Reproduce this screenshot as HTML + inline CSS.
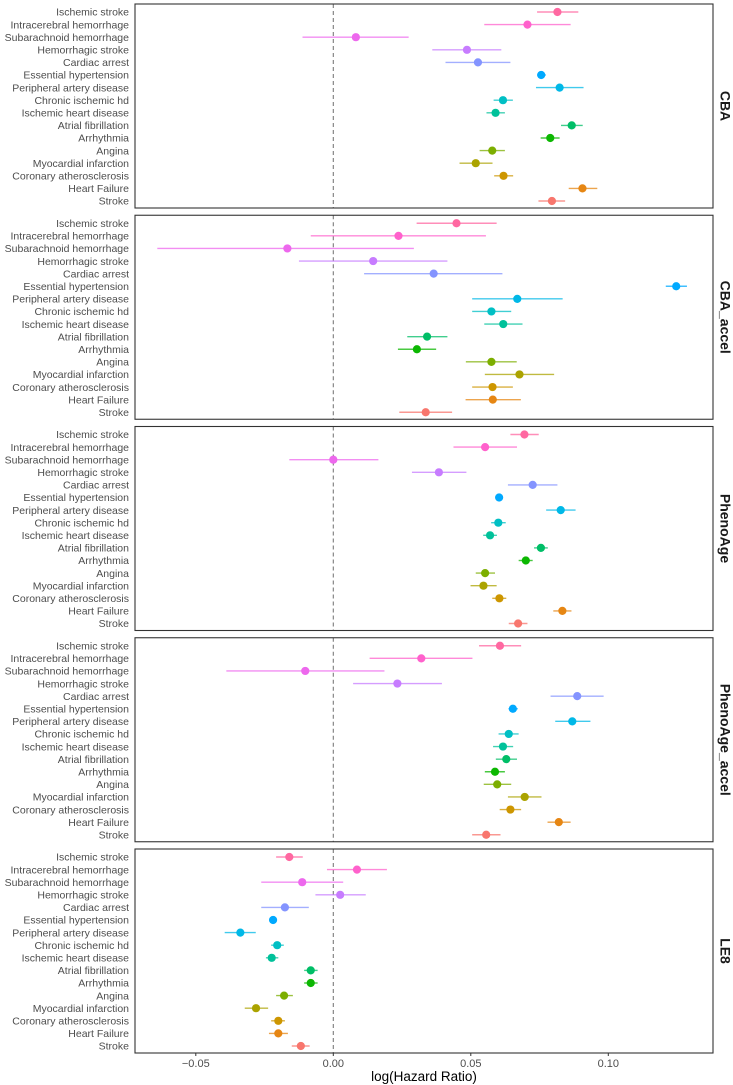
<!DOCTYPE html>
<html><head><meta charset="utf-8"><style>
html,body{margin:0;padding:0;background:#fff;}
svg{display:block;font-family:"Liberation Sans",Arial,sans-serif;}
</style></head><body>
<svg id="chart" width="733" height="1085" viewBox="0 0 733 1085" xmlns="http://www.w3.org/2000/svg"></svg>
<script>
const outcomes = ["Ischemic stroke","Intracerebral hemorrhage","Subarachnoid hemorrhage","Hemorrhagic stroke","Cardiac arrest","Essential hypertension","Peripheral artery disease","Chronic ischemic hd","Ischemic heart disease","Atrial fibrillation","Arrhythmia","Angina","Myocardial infarction","Coronary atherosclerosis","Heart Failure","Stroke"];
const colors = ["#FF68A1","#FF61CC","#ED68ED","#C77CFF","#8494FF","#00A9FF","#00B8E7","#00BFC4","#00C19A","#00BE67","#0CB702","#7CAE00","#ABA300","#CD9600","#E68613","#F8766D"];
const panels = ["CBA","CBA_accel","PhenoAge","PhenoAge_accel","LE8"];
const xTicks = [-0.05,0,0.05,0.1];
const xTickLabels = ["\u22120.05","0.00","0.05","0.10"];
const cbaEst = [0.0815,0.0706,0.0082,0.0486,0.0526,0.0756,0.0823,0.0617,0.0590,0.0867,0.0789,0.0578,0.0518,0.0619,0.0906,0.0795];
const cbaLo  = [0.0741,0.0549,-0.0112,0.0360,0.0408,0.0741,0.0737,0.0583,0.0557,0.0828,0.0754,0.0532,0.0459,0.0585,0.0856,0.0746];
const cbaHi  = [0.0891,0.0863,0.0274,0.0611,0.0644,0.0773,0.0910,0.0653,0.0624,0.0907,0.0823,0.0624,0.0579,0.0654,0.0960,0.0843];
const cbaAccEst = [0.0448,0.0237,-0.0167,0.0145,0.0365,0.1247,0.0669,0.0575,0.0618,0.0341,0.0304,0.0575,0.0677,0.0579,0.0580,0.0336];
const cbaAccLo  = [0.0303,-0.0082,-0.0640,-0.0125,0.0112,0.1209,0.0505,0.0505,0.0549,0.0269,0.0235,0.0482,0.0551,0.0505,0.0481,0.0240];
const cbaAccHi  = [0.0594,0.0555,0.0293,0.0415,0.0615,0.1286,0.0834,0.0647,0.0688,0.0415,0.0374,0.0667,0.0803,0.0653,0.0682,0.0432];
const phEst = [0.0695,0.0552,0.0000,0.0384,0.0725,0.0603,0.0827,0.0600,0.0570,0.0755,0.0700,0.0552,0.0546,0.0604,0.0833,0.0672];
const phLo  = [0.0644,0.0437,-0.0160,0.0286,0.0635,0.0590,0.0774,0.0574,0.0545,0.0730,0.0674,0.0518,0.0499,0.0578,0.0800,0.0638];
const phHi  = [0.0747,0.0668,0.0164,0.0484,0.0815,0.0615,0.0881,0.0627,0.0595,0.0780,0.0725,0.0588,0.0594,0.0629,0.0866,0.0706];
const phAccEst = [0.0606,0.0320,-0.0102,0.0233,0.0887,0.0653,0.0869,0.0638,0.0617,0.0629,0.0588,0.0596,0.0696,0.0644,0.0820,0.0556];
const phAccLo  = [0.0530,0.0132,-0.0389,0.0072,0.0790,0.0637,0.0807,0.0601,0.0581,0.0591,0.0551,0.0547,0.0635,0.0605,0.0779,0.0505];
const phAccHi  = [0.0683,0.0506,0.0186,0.0395,0.0983,0.0671,0.0935,0.0674,0.0654,0.0668,0.0624,0.0647,0.0757,0.0683,0.0863,0.0608];
const le8Est = [-0.0160,0.0086,-0.0113,0.0025,-0.0176,-0.0219,-0.0338,-0.0204,-0.0224,-0.0082,-0.0082,-0.0179,-0.0281,-0.0200,-0.0200,-0.0118];
const le8Lo  = [-0.0208,-0.0023,-0.0262,-0.0065,-0.0262,-0.0229,-0.0395,-0.0226,-0.0245,-0.0106,-0.0106,-0.0208,-0.0322,-0.0226,-0.0234,-0.0151];
const le8Hi  = [-0.0111,0.0195,0.0036,0.0118,-0.0089,-0.0208,-0.0282,-0.0180,-0.0200,-0.0057,-0.0057,-0.0147,-0.0237,-0.0176,-0.0165,-0.0086];

const estAll = [cbaEst,cbaAccEst,phEst,phAccEst,le8Est];
const loAll = [cbaLo,cbaAccLo,phLo,phAccLo,le8Lo];
const hiAll = [cbaHi,cbaAccHi,phHi,phAccHi,le8Hi];

const NS = "http://www.w3.org/2000/svg";
const svg = document.getElementById("chart");
const PL = 135, PR = 713, PH = 204, GAP = 7.25, TOP0 = 4;
function xScale(v){ return 333.3 + v * 2750; }
function yRow(top, i){ return top + 8 + i * 12.6; }
function mk(tag, attrs, parent){ const e = document.createElementNS(NS, tag); for (const k in attrs) e.setAttribute(k, attrs[k]); (parent||svg).appendChild(e); return e; }

panels.forEach((pname, p) => {
  const top = TOP0 + p * (PH + GAP);
  const g = mk("g", {});
  
  
  const bg = mk("rect", {x:PL, y:top, width:PR-PL, height:PH, fill:"#fff"}, g);
  
  
  const ref = mk("line", {x1:xScale(0), x2:xScale(0), y1:top, y2:top+PH, stroke:"#7a7a7a", "stroke-width":1.1, "stroke-dasharray":"4 3"}, g);
  
  
  outcomes.forEach((name, i) => {
    const y = yRow(top, i);
    const lab = mk("text", {x:129, y:y+3.7, "text-anchor":"end", "font-size":"10.5", fill:"#4d4d4d"}, g);
    lab.textContent = name;
    
    
    const lo = Math.max(loAll[p][i], -0.0655);
    const ci = mk("line", {x1:xScale(lo), x2:xScale(hiAll[p][i]), y1:y, y2:y, stroke:colors[i], "stroke-width":1.4, "stroke-opacity":0.75}, g);
    
    
    const pt = mk("circle", {cx:xScale(estAll[p][i]), cy:y, r:4.1, fill:colors[i]}, g);
    
    
  });
  const border = mk("rect", {x:PL, y:top, width:PR-PL, height:PH, fill:"none", stroke:"#333", "stroke-width":1.1}, g);
  
  
  const cy = top + PH/2;
  const strip = mk("text", {x:724, y:cy, "text-anchor":"middle", "font-size":"14", "font-weight":"bold", fill:"#1a1a1a", transform:"rotate(90 724 "+cy+")", "dominant-baseline":"middle"}, g);
  strip.textContent = pname;
  
  
});

const bottom = TOP0 + 4*(PH+GAP) + PH;
xTicks.forEach((t, k) => {
  const tk = mk("line", {x1:xScale(t), x2:xScale(t), y1:bottom, y2:bottom+3, stroke:"#333", "stroke-width":1});
  
  
  const tl = mk("text", {x:xScale(t), y:bottom+14, "text-anchor":"middle", "font-size":"11", fill:"#4d4d4d"});
  tl.textContent = xTickLabels[k];
  
  
});
const title = mk("text", {x:(PL+PR)/2, y:1081, "text-anchor":"middle", "font-size":"13.5", fill:"#000"});
title.textContent = "log(Hazard Ratio)";


</script>
</body></html>
